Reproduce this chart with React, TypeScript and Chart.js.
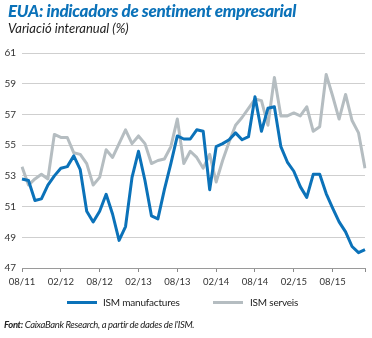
import React, { useEffect, useRef } from "react";
import { Chart, registerables } from "chart.js";

Chart.register(...registerables);

const months: string[] = [
  "08/11", "09/11", "10/11", "11/11", "12/11",
  "01/12", "02/12", "03/12", "04/12", "05/12", "06/12", "07/12", "08/12", "09/12", "10/12", "11/12", "12/12",
  "01/13", "02/13", "03/13", "04/13", "05/13", "06/13", "07/13", "08/13", "09/13", "10/13", "11/13", "12/13",
  "01/14", "02/14", "03/14", "04/14", "05/14", "06/14", "07/14", "08/14", "09/14", "10/14", "11/14", "12/14",
  "01/15", "02/15", "03/15", "04/15", "05/15", "06/15", "07/15", "08/15", "09/15", "10/15", "11/15", "12/15",
  "01/16",
];

const tickLabels: string[] = ["08/11", "02/12", "08/12", "02/13", "08/13", "02/14", "08/14", "02/15", "08/15"];

const ismManufactures: number[] = [
  52.8, 52.7, 51.4, 51.5, 52.4, 53.0, 53.5, 53.6, 54.3, 53.4,
  50.7, 50.0, 50.7, 51.8, 50.5, 48.8, 49.7, 52.9, 54.6, 52.7,
  50.4, 50.2, 52.1, 53.8, 55.6, 55.4, 55.4, 56.0, 55.9, 52.1,
  54.9, 55.1, 55.35, 55.8, 55.35, 55.55, 58.15, 55.9, 57.4, 57.5,
  54.9, 53.9, 53.3, 52.3, 51.6, 53.1, 53.1, 51.85, 50.9, 50.0,
  49.35, 48.4, 48.0, 48.2,
];

const ismServeis: number[] = [
  53.6, 52.4, 52.8, 53.1, 52.8, 55.7, 55.5, 55.5, 54.5, 54.4,
  53.8, 52.4, 52.9, 54.7, 54.2, 55.1, 56.0, 55.1, 55.6, 55.1,
  53.8, 54.0, 54.1, 54.9, 56.7, 53.8, 54.6, 54.2, 53.5, 54.4,
  52.6, 54.0, 55.2, 56.3, 56.8, 57.4, 58.0, 57.9, 56.3, 59.4,
  56.9, 56.9, 57.1, 56.9, 57.5, 55.9, 56.2, 59.6, 58.2, 56.7,
  58.3, 56.6, 55.8, 53.5,
];

const yMin = 47;
const yMax = 61;
const yStep = 2;

const BLUE = "#0b72b9";
const GRAY = "#b5bdc1";
const FONT = "Lato, 'Open Sans', sans-serif";

export default function App() {
  const canvasRef = useRef<HTMLCanvasElement | null>(null);

  useEffect(() => {
    document.body.style.margin = "0";
    const canvas = canvasRef.current;
    if (!canvas) return;
    const lastIndex = months.length - 1;
    const chart = new Chart(canvas, {
      type: "line",
      data: {
        labels: months,
        datasets: [
          {
            label: "ISM manufactures",
            data: ismManufactures,
            borderColor: BLUE,
            backgroundColor: BLUE,
            borderWidth: 3,
            pointRadius: 0,
            tension: 0,
            borderJoinStyle: "round",
          },
          {
            label: "ISM serveis",
            data: ismServeis,
            borderColor: GRAY,
            backgroundColor: GRAY,
            borderWidth: 3,
            pointRadius: 0,
            tension: 0,
            borderJoinStyle: "round",
          },
        ],
      },
      options: {
        responsive: false,
        animation: false,
        layout: { padding: { left: 0, right: 7, top: 53, bottom: 0 } },
        plugins: {
          legend: { display: false },
          tooltip: { enabled: false },
          title: { display: false },
        },
        scales: {
          x: {
            type: "category",
            offset: false,
            afterFit: (scale: any) => {
              scale.height = 70;
            },
            grid: {
              drawOnChartArea: false,
              drawTicks: true,
              tickLength: 4,
              color: (ctx: any) =>
                tickLabels.includes(months[ctx.index]) || ctx.index === lastIndex ? "#8a8a8a" : "rgba(0,0,0,0)",
            },
            border: { display: true, color: "#9a9a9a", width: 1 },
            ticks: {
              autoSkip: false,
              maxRotation: 0,
              minRotation: 0,
              padding: 4,
              color: "#333333",
              font: { family: FONT, size: 9.5 },
              callback: (_v: any, i: number) => (tickLabels.includes(months[i]) ? months[i] : ""),
            },
          },
          y: {
            min: yMin,
            max: yMax,
            afterFit: (scale: any) => {
              scale.width = 22;
            },
            grid: {
              color: "#cfcfcf",
              lineWidth: 1,
              drawTicks: false,
            },
            border: { display: false },
            ticks: {
              stepSize: yStep,
              padding: 6,
              color: "#333333",
              font: { family: FONT, size: 10 },
            },
          },
        },
      },
    });
    return () => chart.destroy();
  }, []);

  return (
    <div style={{ position: "fixed", left: 0, top: 0, width: 372, height: 338, background: "#ffffff", overflow: "hidden", fontFamily: FONT }}>
      <canvas ref={canvasRef} width={372} height={338} style={{ position: "absolute", left: 0, top: 0 }} />
      <div style={{ position: "absolute", left: 8, top: 0, fontSize: 17, fontWeight: 900, fontStyle: "italic", color: BLUE, whiteSpace: "nowrap", letterSpacing: -0.3 }}>
        EUA: indicadors de sentiment empresarial
      </div>
      <div style={{ position: "absolute", left: 8, top: 20, fontSize: 13, fontStyle: "italic", color: "#222", whiteSpace: "nowrap" }}>
        Variació interanual (%)
      </div>
      <div style={{ position: "absolute", left: 67, top: 296, display: "flex", alignItems: "center", fontSize: 10, letterSpacing: -0.2, color: "#222", whiteSpace: "nowrap" }}>
        <span style={{ display: "inline-block", width: 30, height: 3, background: BLUE, marginRight: 6 }} />
        <span style={{ width: 110 }}>ISM manufactures</span>
        <span style={{ display: "inline-block", width: 30, height: 3, background: GRAY, marginRight: 7 }} />
        <span>ISM serveis</span>
      </div>
      <div style={{ position: "absolute", left: 4, top: 319, fontSize: 9.5, letterSpacing: -0.35, fontStyle: "italic", color: "#222", whiteSpace: "nowrap" }}>
        <b>Font:</b> CaixaBank Research, a partir de dades de l’ISM.
      </div>
    </div>
  );
}
